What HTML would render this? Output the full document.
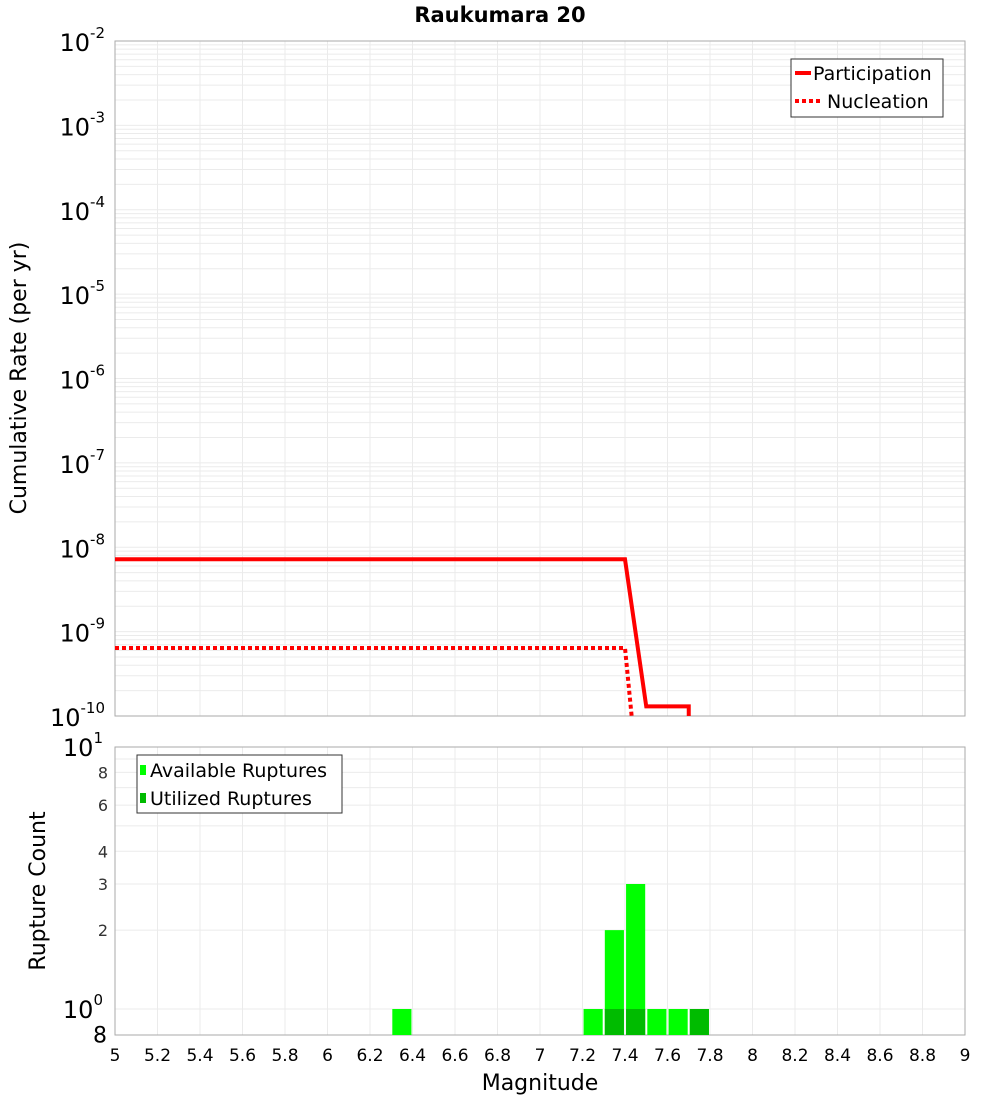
<!DOCTYPE html>
<html><head><meta charset="utf-8"><style>
body{margin:0;background:#fff;font-family:"DejaVu Sans","Liberation Sans",sans-serif}
svg text{font-family:"DejaVu Sans","Liberation Sans",sans-serif}
</style></head><body>
<svg id="chart" width="1000" height="1100" viewBox="0 0 1000 1100" xmlns="http://www.w3.org/2000/svg">
<text x="500" y="22" text-anchor="middle" font-size="21" font-weight="bold">Raukumara 20</text>
<g id="topPlot"></g><g id="botPlot"></g>
</svg>
<script>
const partMags=[5,7.4,7.5,7.7,7.7];
const partRates=[7.2e-9,7.2e-9,1.3e-10,1.3e-10,1e-11];
const nuclMags=[5,7.4,7.47];
const nuclRates=[6.4e-10,6.4e-10,1e-11];
const availMags=[6.35,7.25,7.35,7.45,7.55,7.65,7.75];
const availCounts=[1,1,2,3,1,1,1];
const utilMags=[7.35,7.45,7.75];
const utilCounts=[1,1,1];
const xTicks=[5,5.2,5.4,5.6,5.8,6,6.2,6.4,6.6,6.8,7,7.2,7.4,7.6,7.8,8,8.2,8.4,8.6,8.8,9];
const topExps=[-2,-3,-4,-5,-6,-7,-8,-9,-10];
const botTickLabels=["8","2","3","4","6","8"];
const botTickVals=[0.8,2,3,4,6,8];

const NS="http://www.w3.org/2000/svg";
const L=115,R=965,T1=41,B1=716,T2=747,B2=1035;
const xS=m=>L+(m-5)/4*(R-L);
const yT=v=>T1+(-2-Math.log10(v))*(B1-T1)/8;
const yB=v=>1009-Math.log10(v)*262;
function el(p,t,a){const e=document.createElementNS(NS,t);for(const k in a)e.setAttribute(k,a[k]);p.appendChild(e);return e;}
const gTop=document.getElementById('topPlot'),gBot=document.getElementById('botPlot'),svgEl=document.getElementById('chart');
const defs=el(svgEl,'defs',{});
const c1=el(defs,'clipPath',{id:'c1'});el(c1,'rect',{x:L,y:T1,width:R-L,height:B1-T1});
const c2=el(defs,'clipPath',{id:'c2'});el(c2,'rect',{x:L,y:T2,width:R-L,height:B2-T2});
for(let e=-10;e<-2;e++)for(let k=1;k<10;k++){const yy=yT(k*Math.pow(10,e));
 const g=el(gTop,'line',{x1:L,x2:R,y1:yy,y2:yy,stroke:'#ebebeb','stroke-width':1});
 
 }
xTicks.forEach(m=>{el(gTop,'line',{x1:xS(m),x2:xS(m),y1:T1,y2:B1,stroke:'#ebebeb'});el(gBot,'line',{x1:xS(m),x2:xS(m),y1:T2,y2:B2,stroke:'#ebebeb'});});
[1,2,3,4,5,6,7,8,9].forEach(v=>el(gBot,'line',{x1:L,x2:R,y1:yB(v),y2:yB(v),stroke:'#ebebeb'}));
const f1=el(gTop,'rect',{x:L,y:T1,width:R-L,height:B1-T1,fill:'none',stroke:'#aaa'});


const f2=el(gBot,'rect',{x:L,y:T2,width:R-L,height:B2-T2,fill:'none',stroke:'#aaa'});


topExps.forEach(e=>{const t=el(gTop,'text',{x:105,y:yT(Math.pow(10,e))+10,'text-anchor':'end','font-size':24});
 
 
 t.textContent='10';const s=el(t,'tspan',{dy:-13,'font-size':15});s.textContent=String(e);});
const pl=el(gTop,'polyline',{points:partMags.map((m,i)=>xS(m)+','+yT(partRates[i])).join(' '),fill:'none',stroke:'#f00','stroke-width':4,'clip-path':'url(#c1)'});


const nl=el(gTop,'polyline',{points:nuclMags.map((m,i)=>xS(m)+','+yT(nuclRates[i])).join(' '),fill:'none',stroke:'#f00','stroke-width':4,'stroke-dasharray':'4 3','clip-path':'url(#c1)'});


const lg=el(gTop,'g',{});


el(lg,'rect',{x:791,y:59,width:152,height:58,fill:'#fff',stroke:'#333'});
el(lg,'line',{x1:795,x2:811,y1:73,y2:73,stroke:'#f00','stroke-width':4});
el(lg,'line',{x1:795,x2:821,y1:101,y2:101,stroke:'#f00','stroke-width':4,'stroke-dasharray':'4 3'});
let tx=el(lg,'text',{x:813,y:80,'font-size':19});tx.textContent='Participation';
tx=el(lg,'text',{x:827,y:108,'font-size':19});tx.textContent='Nucleation';
const yl=el(gTop,'text',{transform:'translate(26,378) rotate(-90)','text-anchor':'middle','font-size':22});


yl.textContent='Cumulative Rate (per yr)';
const bw=0.09;
availMags.forEach((m,i)=>{const r=el(gBot,'rect',{x:xS(m-bw/2),y:yB(availCounts[i]),width:xS(m+bw/2)-xS(m-bw/2),height:B2-yB(availCounts[i]),fill:'#00ff00','clip-path':'url(#c2)'});
 
 });
utilMags.forEach((m,i)=>{const r=el(gBot,'rect',{x:xS(m-bw/2),y:yB(utilCounts[i]),width:xS(m+bw/2)-xS(m-bw/2),height:B2-yB(utilCounts[i]),fill:'#00bb00','clip-path':'url(#c2)'});
 
 });
botTickVals.forEach((v,i)=>{const tt=el(gBot,'text',{x:v<1?107:108,y:yB(v)+(v<1?8:6),'text-anchor':'end','font-size':v<1?22:16,fill:v<1?'#000':'#333'});
 
 
 tt.textContent=botTickLabels[i];});
let t10=el(gBot,'text',{x:103,y:756,'text-anchor':'end','font-size':24});t10.textContent='10';
let s10=el(t10,'tspan',{dy:-13,'font-size':15});s10.textContent='1';


let t0=el(gBot,'text',{x:103,y:1018,'text-anchor':'end','font-size':24});t0.textContent='10';
let s0=el(t0,'tspan',{dy:-13,'font-size':15});s0.textContent='0';


const lg2=el(gBot,'g',{});


el(lg2,'rect',{x:137,y:755,width:205,height:58,fill:'#fff',stroke:'#333'});
el(lg2,'rect',{x:140,y:765,width:6,height:10,fill:'#00ff00'});
el(lg2,'rect',{x:140,y:793,width:6,height:10,fill:'#00bb00'});
tx=el(lg2,'text',{x:150,y:777,'font-size':19});tx.textContent='Available Ruptures';
tx=el(lg2,'text',{x:150,y:805,'font-size':19});tx.textContent='Utilized Ruptures';
const yl2=el(gBot,'text',{transform:'translate(45,891) rotate(-90)','text-anchor':'middle','font-size':22});


yl2.textContent='Rupture Count';
xTicks.forEach(m=>{const tt=el(gBot,'text',{x:xS(m),y:1061,'text-anchor':'middle','font-size':17});
 
 
 tt.textContent=String(m);});
const xl=el(gBot,'text',{x:540,y:1090,'text-anchor':'middle','font-size':22});


xl.textContent='Magnitude';
</script>
</body></html>
